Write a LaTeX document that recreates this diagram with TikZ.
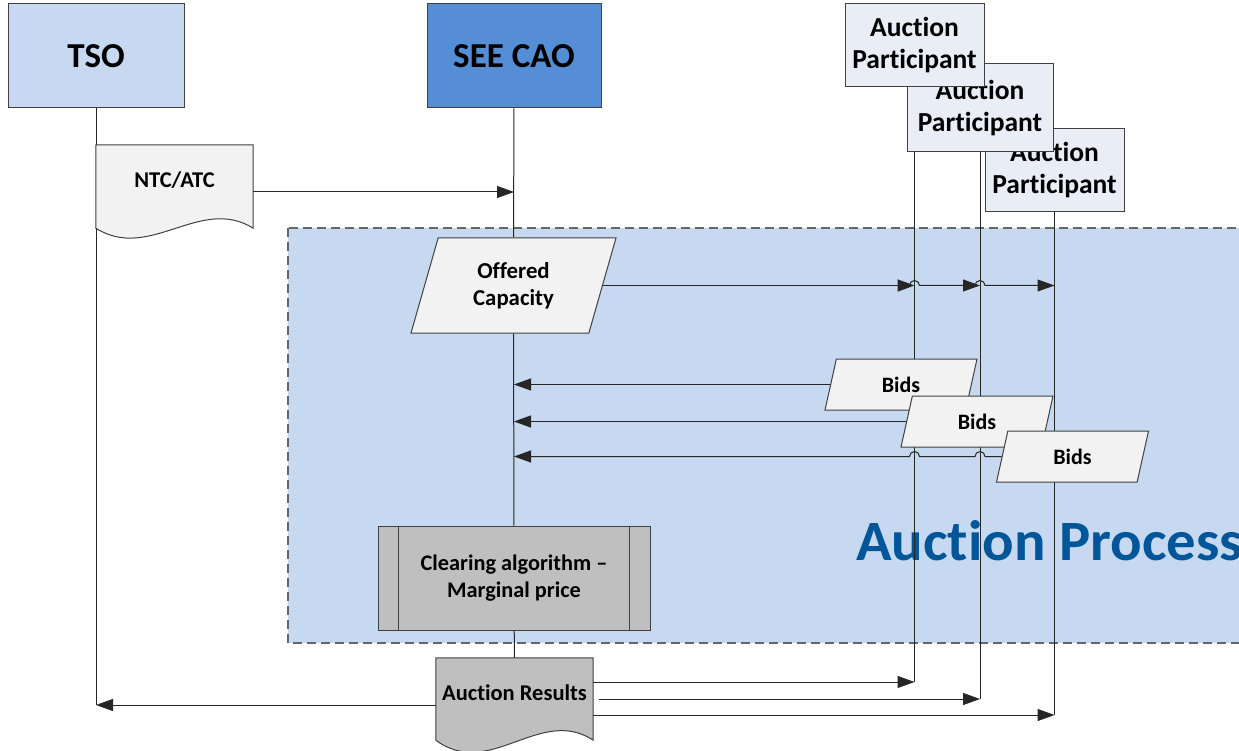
\documentclass[tikz,border=0pt]{standalone}
\usepackage{fontspec}
\setmainfont{Carlito}[Ligatures=NoCommon]
\newfontfamily\titlefont{Carlito}[Ligatures=NoCommon, FakeStretch=1.03]
\usetikzlibrary{shapes.geometric,arrows.meta,calc}
\definecolor{tsoblue}{RGB}{198,217,240}
\definecolor{caoblue}{RGB}{85,142,213}
\definecolor{partfill}{RGB}{233,237,245}
\definecolor{docfill}{RGB}{242,242,242}
\definecolor{grayfill}{RGB}{191,191,191}
\definecolor{titleblue}{RGB}{0,86,152}
\pgfdeclarelayer{back}
\pgfsetlayers{back,main}
\tikzset{
    actor/.style = {draw=black!75, line width=1pt, rectangle, font=\fontsize{35}{40}\selectfont\bfseries},
    partbox/.style = {draw=black!75, line width=1pt, fill=partfill, rectangle, minimum width=139pt, minimum height=83pt, align=center, font=\fontsize{27.5}{32}\selectfont\bfseries},
    iobox/.style = {trapezium, trapezium left angle=63, trapezium right angle=117, trapezium stretches body, draw=black!75, line width=1pt, fill=docfill, align=center, font=\fontsize{22.8}{27}\selectfont\bfseries},
    bidbox/.style = {iobox, minimum width=152pt, minimum height=51pt, font=\fontsize{22}{25}\selectfont\bfseries},
    procbox/.style = {draw=black!75, line width=1pt, fill=grayfill, rectangle, minimum width=272pt, minimum height=104pt, align=center, font=\fontsize{22.3}{27}\selectfont\bfseries},
    docnode/.style = {rectangle, minimum width=157pt, minimum height=70pt, align=center, font=\fontsize{22.5}{27}\selectfont\bfseries},
    docline/.style = {draw=black!75, line width=1pt},
    procarea/.style = {draw=black!60, line width=1.3pt, dash pattern=on 9pt off 5pt, fill=tsoblue},
    life/.style = {draw=black!85, line width=1pt},
    msg/.style = {draw=black!85, line width=1pt, -{Triangle[length=17pt,width=12pt]}},
}
\begin{document}
\begin{tikzpicture}[x=1pt, y=-1pt]
\useasboundingbox (0,0) rectangle (1239,751);

% roles
\node[actor, fill=tsoblue, minimum width=176pt, minimum height=104pt] (tso) at (96,56) {TSO};
\node[actor, fill=caoblue, minimum width=174pt, minimum height=104pt] (cao) at (514,56) {SEE CAO};
\node[partbox] (ap3) at (1054.5,170.5) {Auction\\Participant};
\node[partbox, minimum width=146pt, minimum height=88pt] (ap2) at (980,108) {Auction\\Participant};
\node[partbox] (ap1) at (914.5,45.5) {Auction\\Participant};

\coordinate (tsoend) at (tso |- 0,705);
\coordinate (p1end) at (ap1 |- 0,682);
\coordinate (p2end) at (ap2 |- 0,699);
\coordinate (p3end) at (ap3 |- 0,715);

% steps
\node[docnode] (ntc) at (174.5,180) {NTC/ATC};
\node[iobox, minimum width=205pt, minimum height=95pt] (offer) at (513.5,285.5) {Offered\\Capacity};
\node[bidbox] (bid1) at (901,384.5) {Bids};
\node[bidbox] (bid2) at (977,421.5) {Bids};
\node[bidbox] (bid3) at (1072.5,456.5) {Bids};
\node[procbox] (clear) at (514,578) {Clearing algorithm --\\Marginal price};
\draw[docline] ([xshift=21pt]clear.north west) -- ([xshift=21pt]clear.south west)
               ([xshift=-21pt]clear.north east) -- ([xshift=-21pt]clear.south east);
\node[docnode] (res) at (514.5,693) {Auction Results};

% behind everything
\begin{pgfonlayer}{back}
\fill[white] (0,0) rectangle (1239,751);
\draw[procarea] (288,228) rectangle (1250,643);
\node[anchor=base west, inner sep=0pt, text=titleblue, font=\titlefont\fontsize{57}{60}\selectfont\bfseries] (title) at (856,560) {Auction Process};
\draw[life] (tso) -- (tsoend);
\draw[life] (ap1) -- (p1end);
\draw[life] (ap2) -- (p2end);
\draw[life] (ap3) -- (p3end);
\draw[life] (cao) -- (offer) (offer) -- (clear) (clear) -- (res);
\draw[docline, fill=docfill] (ntc.north west) -- (ntc.north east) -- ($(ntc.south east)+(0,13)$)
    .. controls ($(ntc.south east)+(-53,-20)$) and ($(ntc.south west)+(54,47)$) .. ($(ntc.south west)+(0,13)$) -- cycle;
\draw[docline, fill=grayfill] (res.north west) -- (res.north east) -- ($(res.south east)+(0,12)$)
    .. controls ($(res.south east)+(-53,-23)$) and ($(res.south west)+(54,52)$) .. ($(res.south west)+(0,12)$) -- cycle;
\end{pgfonlayer}

% messages
\coordinate (ntcout) at ($(ntc.east)+(0,12)$);
\draw[msg] (ntcout) -- (ntcout -| cao);

\coordinate (j1) at (offer.east -| ap1);
\coordinate (j2) at (offer.east -| ap2);
\draw[msg, line width=1.6pt] (offer.east) -- (j1);
\draw[msg] ([xshift=-5pt]j1) arc[start angle=180, end angle=0, radius=5pt] -- (j2);
\draw[msg] ([xshift=-5pt]j2) arc[start angle=180, end angle=0, radius=5pt] -- (offer.east -| ap3);

\coordinate (k1) at (bid3.west -| ap1);
\coordinate (k2) at (bid3.west -| ap2);
\draw[msg] (bid1.west) -- (bid1.west -| cao);
\draw[msg] (bid2.west) -- (bid2.west -| cao);
\draw[msg] (bid3.west) -- ([xshift=5pt]k2) arc[start angle=0, end angle=180, radius=5pt]
    -- ([xshift=5pt]k1) arc[start angle=0, end angle=180, radius=5pt] -- (bid3.west -| cao);

\coordinate (r0) at ($(res.west)+(0,12)$);
\draw[msg] (r0) -- (tsoend);
\draw[msg] ($(res.east)+(0,-11)$) -- (p1end);
\draw[msg] ($(res.east)+(6,6)$) -- (p2end);
\draw[msg] ($(res.east)+(0,22)$) -- (p3end);
\end{tikzpicture}
\end{document}
